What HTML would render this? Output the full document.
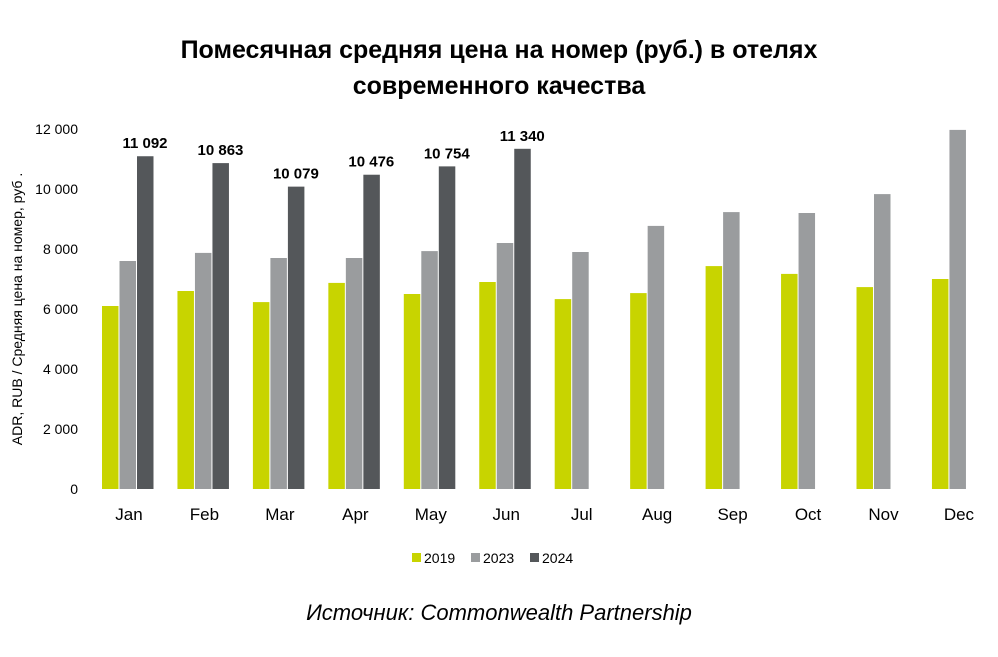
<!DOCTYPE html>
<html><head><meta charset="utf-8"><style>
body{margin:0;background:#fff;font-family:"Liberation Sans",sans-serif;}
</style></head><body>
<svg id="chart" width="998" height="652" xmlns="http://www.w3.org/2000/svg">
<text x="499" y="58" text-anchor="middle" font-size="25" font-weight="bold">Помесячная средняя цена на номер (руб.) в отелях</text>
<text x="499" y="94" text-anchor="middle" font-size="25" font-weight="bold">современного качества</text>
<text transform="translate(22,309) rotate(-90)" text-anchor="middle" font-size="14">ADR, RUB / Средняя цена на номер, руб .</text>
<g id="axes"></g><g id="bars"></g>
<g>
<rect x="412" y="553" width="9" height="9" fill="#c8d400"/>
<text x="424" y="563" font-size="14">2019</text>
<rect x="471" y="553" width="9" height="9" fill="#9a9c9e"/>
<text x="483" y="563" font-size="14">2023</text>
<rect x="530" y="553" width="9" height="9" fill="#54575a"/>
<text x="542" y="563" font-size="14">2024</text>
</g>
<text x="499" y="620" text-anchor="middle" font-size="22" font-style="italic">Источник: Commonwealth Partnership</text>
</svg>
<script>
const categories=["Jan","Feb","Mar","Apr","May","Jun","Jul","Aug","Sep","Oct","Nov","Dec"];
const s2019=[6100,6600,6230,6870,6500,6900,6330,6530,7430,7170,6730,7000];
const s2023=[7600,7870,7700,7700,7930,8200,7900,8770,9230,9200,9830,11970];
const s2024=[11092,10863,10079,10476,10754,11340,null,null,null,null,null,null];
const yTicks=[0,2000,4000,6000,8000,10000,12000];
const yTickLabels=["0","2 000","4 000","6 000","8 000","10 000","12 000"];
const labels2024=["11 092","10 863","10 079","10 476","10 754","11 340"];
const NS="http://www.w3.org/2000/svg";
const y=v=>489-v*0.03;
const xc=i=>129+i*75.45;
function mk(t,a,p){const e=document.createElementNS(NS,t);for(const k in a)e.setAttribute(k,a[k]);p.appendChild(e);return e;}
const ax=document.getElementById('axes'),bg=document.getElementById('bars');
yTicks.forEach((v,i)=>{const t=mk('text',{x:78,y:y(v)+5,'text-anchor':'end','font-size':14},ax);t.textContent=yTickLabels[i];

});
categories.forEach((c,i)=>{const t=mk('text',{x:xc(i),y:520,'text-anchor':'middle','font-size':17},ax);t.textContent=c;

});
const series=[[s2019,"#c8d400","2019"],[s2023,"#9a9c9e","2023"],[s2024,"#54575a","2024"]];
categories.forEach((c,i)=>{series.forEach((s,j)=>{const v=s[0][i];if(v==null)return;
const x0=xc(i)-27+j*17.5;
const r=mk('rect',{x:x0,y:y(v),width:16.5,height:489-y(v),fill:s[1]},bg);


if(j==2){const t=mk('text',{x:x0+8,y:y(v)-8,'text-anchor':'middle','font-size':15,'font-weight':'bold'},bg);t.textContent=labels2024[i];

}
});});
</script>
</body></html>
